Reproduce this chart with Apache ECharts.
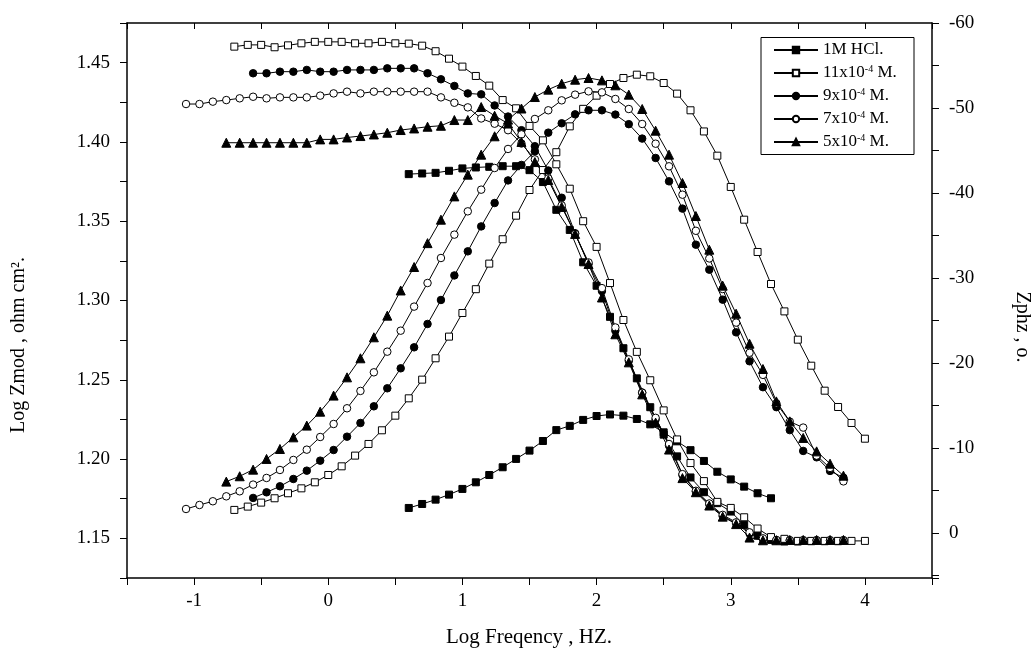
<!DOCTYPE html>
<html>
<head>
<meta charset="utf-8">
<script src="https://cdn.jsdelivr.net/npm/echarts@6/dist/echarts.min.js"></script>
<style>
html,body{margin:0;padding:0;background:#fff;}
#chart{width:1035px;height:649px;}
</style>
</head>
<body>
<div id="chart"></div>
<script>
// ---- data (log frequency, log Zmod, phase) ----
const seriesNames = ['1M HCl.', '11x10-4 M.', '9x10-4 M.', '7x10-4 M.', '5x10-4 M.'];

const freqHCl = [0.6,0.7,0.8,0.9,1.0,1.1,1.2,1.3,1.4,1.5,1.6,1.7,1.8,1.9,2.0,2.1,2.2,2.3,2.4,2.5,2.6,2.7,2.8,2.9,3.0,3.1,3.2,3.3,3.4,3.5,3.6,3.7,3.8];
const zmodHCl = [1.3797,1.3801,1.3805,1.3818,1.3833,1.3839,1.3843,1.3847,1.3847,1.3822,1.3747,1.3572,1.3445,1.3241,1.3093,1.2897,1.2699,1.2509,1.2327,1.2154,1.2017,1.1884,1.1791,1.1722,1.1669,1.1585,1.1517,1.1490,1.1480,1.1480,1.1482,1.1482,1.1482];
const phaseHCl = [-2.94,-3.41,-3.92,-4.51,-5.18,-5.96,-6.82,-7.73,-8.71,-9.69,-10.82,-12.1,-12.6,-13.3,-13.76,-13.94,-13.8,-13.41,-12.78,-11.84,-10.78,-9.74,-8.47,-7.2,-6.3,-5.45,-4.67,-4.08];

const freq11 = [-0.7,-0.6,-0.5,-0.4,-0.3,-0.2,-0.1,0,0.1,0.2,0.3,0.4,0.5,0.6,0.7,0.8,0.9,1.0,1.1,1.2,1.3,1.4,1.5,1.6,1.7,1.8,1.9,2.0,2.1,2.2,2.3,2.4,2.5,2.6,2.7,2.8,2.9,3.0,3.1,3.2,3.3,3.4,3.5,3.6,3.7,3.8,3.9,4.0];
const zmod11 = [1.4601,1.4612,1.4612,1.4597,1.4609,1.4622,1.4631,1.4631,1.4631,1.4622,1.4622,1.4631,1.4622,1.4620,1.4607,1.4572,1.4525,1.4475,1.4416,1.4355,1.4264,1.4212,1.4101,1.4010,1.3859,1.3705,1.3500,1.3338,1.3110,1.2877,1.2676,1.2497,1.2307,1.2124,1.1975,1.1861,1.1730,1.1692,1.1633,1.1562,1.1508,1.1497,1.1484,1.1484,1.1484,1.1484,1.1484,1.1484];
const phase11 = [-2.71,-3.10,-3.57,-4.08,-4.67,-5.25,-5.96,-6.82,-7.84,-9.10,-10.47,-12.08,-13.80,-15.84,-18.04,-20.55,-23.10,-25.88,-28.68,-31.69,-34.56,-37.33,-40.35,-42.7,-44.8,-47.84,-49.90,-51.45,-52.82,-53.53,-53.92,-53.73,-52.94,-51.69,-49.73,-47.24,-44.39,-40.71,-36.86,-33.06,-29.29,-26.07,-22.74,-19.68,-16.74,-14.82,-12.94,-11.09];

const freq9 = [-0.56,-0.46,-0.36,-0.26,-0.16,-0.06,0.04,0.14,0.24,0.34,0.44,0.54,0.64,0.74,0.84,0.94,1.04,1.14,1.24,1.34,1.44,1.54,1.64,1.74,1.84,1.94,2.04,2.14,2.24,2.34,2.44,2.54,2.64,2.74,2.84,2.94,3.04,3.14,3.24,3.34,3.44,3.54,3.64,3.74,3.84];
const zmod9 = [1.4433,1.4433,1.4443,1.4443,1.4454,1.4443,1.4443,1.4454,1.4454,1.4454,1.4464,1.4464,1.4464,1.4433,1.4395,1.4353,1.4306,1.4300,1.4230,1.4160,1.4074,1.3973,1.3820,1.3648,1.3424,1.3230,1.3060,1.2810,1.2620,1.2420,1.2250,1.2085,1.1900,1.1795,1.1715,1.1640,1.1595,1.1530,1.1495,1.1488,1.1488,1.1488,1.1488,1.1488,1.1488];
const phase9 = [-4.12,-4.78,-5.49,-6.35,-7.33,-8.51,-9.76,-11.33,-12.94,-14.90,-17.02,-19.37,-21.84,-24.59,-27.41,-30.30,-33.13,-36.07,-38.82,-41.48,-43.30,-44.90,-47.10,-48.20,-49.25,-49.73,-49.73,-49.22,-48.10,-46.40,-44.12,-41.37,-38.16,-33.92,-30.98,-27.45,-23.60,-20.20,-17.15,-14.80,-12.10,-9.65,-8.90,-7.30,-6.50];

const freq7 = [-1.06,-0.96,-0.86,-0.76,-0.66,-0.56,-0.46,-0.36,-0.26,-0.16,-0.06,0.04,0.14,0.24,0.34,0.44,0.54,0.64,0.74,0.84,0.94,1.04,1.14,1.24,1.34,1.44,1.54,1.64,1.74,1.84,1.94,2.04,2.14,2.24,2.34,2.44,2.54,2.64,2.74,2.84,2.94,3.04,3.14,3.24,3.34,3.44,3.54,3.64,3.74,3.84];
const zmod7 = [1.4239,1.4239,1.4254,1.4264,1.4275,1.4285,1.4275,1.4281,1.4281,1.4281,1.4292,1.4306,1.4317,1.4306,1.4317,1.4317,1.4317,1.4317,1.4317,1.4281,1.4247,1.4218,1.4148,1.4115,1.4074,1.3990,1.3890,1.3770,1.3600,1.3420,1.3240,1.3078,1.2830,1.2629,1.2418,1.2260,1.2095,1.1905,1.1800,1.1720,1.1648,1.1601,1.1538,1.1500,1.1490,1.1488,1.1488,1.1488,1.1488,1.1488];
const phase7 = [-2.82,-3.29,-3.73,-4.31,-4.90,-5.69,-6.47,-7.41,-8.59,-9.80,-11.29,-12.82,-14.67,-16.71,-18.90,-21.33,-23.80,-26.63,-29.41,-32.35,-35.10,-37.84,-40.39,-42.94,-45.18,-46.90,-48.71,-49.73,-50.90,-51.57,-51.96,-51.84,-51.06,-49.88,-48.12,-45.80,-43.14,-39.80,-35.55,-32.30,-28.70,-24.75,-21.20,-18.60,-15.25,-13.10,-12.40,-9.10,-7.65,-6.07];

const freq5 = [-0.76,-0.66,-0.56,-0.46,-0.36,-0.26,-0.16,-0.06,0.04,0.14,0.24,0.34,0.44,0.54,0.64,0.74,0.84,0.94,1.04,1.14,1.24,1.34,1.44,1.54,1.64,1.74,1.84,1.94,2.04,2.14,2.24,2.34,2.44,2.54,2.64,2.74,2.84,2.94,3.04,3.14,3.24,3.34,3.44,3.54,3.64,3.74,3.84];
const zmod5 = [1.3995,1.3995,1.3995,1.3995,1.3995,1.3995,1.3995,1.4016,1.4016,1.4028,1.4037,1.4047,1.4058,1.4075,1.4085,1.4096,1.4102,1.4138,1.4138,1.4220,1.4165,1.4116,1.4000,1.3873,1.3760,1.3590,1.3420,1.3230,1.3019,1.2787,1.2610,1.2408,1.2230,1.2060,1.1880,1.1791,1.1707,1.1637,1.1590,1.1505,1.1488,1.1488,1.1490,1.1490,1.1490,1.1490,1.1490];
const phase5 = [-6.04,-6.67,-7.45,-8.71,-9.88,-11.25,-12.63,-14.27,-16.16,-18.31,-20.55,-23.02,-25.57,-28.53,-31.29,-34.10,-36.86,-39.60,-42.16,-44.51,-46.67,-48.63,-49.94,-51.29,-52.16,-52.86,-53.33,-53.53,-53.25,-52.67,-51.57,-49.88,-47.33,-44.51,-41.18,-37.29,-33.33,-29.10,-25.80,-22.27,-19.29,-15.48,-13.13,-11.18,-9.60,-8.15,-6.74];

// ---- build ----
const pts = (xs, ys) => ys.map((y, i) => [xs[i], y]);
const FONT = 'Liberation Serif';

const styles = [
  {symbol: 'rect', size: 7, fill: '#000'},
  {symbol: 'rect', size: 7, fill: '#fff'},
  {symbol: 'circle', size: 7.5, fill: '#000'},
  {symbol: 'circle', size: 7.5, fill: '#fff'},
  {symbol: 'triangle', size: 9, fill: '#000'}
];
const groups = [
  [freqHCl, zmodHCl, phaseHCl],
  [freq11, zmod11, phase11],
  [freq9, zmod9, phase9],
  [freq7, zmod7, phase7],
  [freq5, zmod5, phase5]
];

const series = [];
groups.forEach((g, k) => {
  const st = styles[k];
  const base = {
    name: seriesNames[k], type: 'line', symbol: st.symbol, symbolSize: st.size,
    showAllSymbol: true, animation: false, emphasis: {disabled: true},
    itemStyle: {color: st.fill, borderColor: '#000', borderWidth: 1},
    lineStyle: {color: '#000', width: 1}, z: 2
  };
  series.push(Object.assign({}, base, {xAxisIndex: 0, yAxisIndex: 0, data: pts(g[0], g[1])}));
  series.push(Object.assign({}, base, {xAxisIndex: 0, yAxisIndex: 1, data: pts(g[0], g[2])}));
});

const axisLineStyle = {show: true, onZero: false, lineStyle: {color: '#000', width: 1.5}};
const tickStyle = {lineStyle: {color: '#000', width: 1}};
const labelStyle = {color: '#000', fontFamily: FONT, fontSize: 19};
const near = (a, b) => Math.abs(a - b) < 1e-6;

const option = {
  backgroundColor: '#fff',
  animation: false,
  grid: {left: 127, right: 103, top: 23, bottom: 71, containLabel: false},
  xAxis: [
    {type: 'value', position: 'bottom', min: -1.5, max: 4.5, interval: 0.5,
     axisLine: axisLineStyle,
     axisTick: Object.assign({show: true, inside: false, length: 7}, tickStyle),
     axisLabel: Object.assign({margin: 14, formatter: v => near(v, Math.round(v)) ? String(Math.round(v)) : ''}, labelStyle),
     splitLine: {show: false}},
    {type: 'value', position: 'top', min: -1.5, max: 4.5, interval: 0.5,
     axisLine: axisLineStyle,
     axisTick: Object.assign({show: true, inside: true, length: 6}, tickStyle),
     axisLabel: {show: false}, splitLine: {show: false}}
  ],
  yAxis: [
    {type: 'value', position: 'left', min: 1.125, max: 1.475, interval: 0.025,
     axisLine: axisLineStyle,
     axisTick: Object.assign({show: true, inside: false, length: 7}, tickStyle),
     axisLabel: Object.assign({margin: 17, formatter: v => near(v * 20, Math.round(v * 20)) ? v.toFixed(2) : ''}, labelStyle),
     splitLine: {show: false}},
    {type: 'value', position: 'right', min: -60, max: 5.3, interval: 5, inverse: true,
     axisLine: axisLineStyle,
     axisTick: Object.assign({show: true, inside: false, length: 7}, tickStyle),
     axisLabel: Object.assign({margin: 17, formatter: v => near(v / 10, Math.round(v / 10)) ? String(Math.round(v)) : ''}, labelStyle),
     splitLine: {show: false}}
  ],
  legend: {
    data: seriesNames, orient: 'vertical', left: 773, top: 41, padding: 0,
    itemWidth: 44, itemHeight: 8, itemGap: 5, z: 5,
    selectedMode: false,
    formatter: name => name.replace('10-4', '10{sup|-4}'),
    textStyle: {color: '#000', fontFamily: FONT, fontSize: 17, lineHeight: 18,
      rich: {sup: {fontFamily: FONT, fontSize: 10, verticalAlign: 'top', lineHeight: 10, color: '#000'}}}
  },
  graphic: [
    {type: 'rect', z: 3, shape: {x: 761, y: 37.5, width: 153, height: 117},
     style: {fill: '#fff', stroke: '#000', lineWidth: 1}},
    {type: 'text', x: 529, y: 637, z: 5,
     style: {text: 'Log Freqency , HZ.', fill: '#000', font: '21px "Liberation Serif"',
             textAlign: 'center', textVerticalAlign: 'middle', align: 'center', verticalAlign: 'middle'}},
    {type: 'text', x: 19, y: 345, rotation: Math.PI / 2, z: 5,
     style: {text: 'Log Zmod , ohm cm\u00B2.', fill: '#000', font: '20px "Liberation Serif"',
             textAlign: 'center', textVerticalAlign: 'middle', align: 'center', verticalAlign: 'middle'}},
    {type: 'text', x: 1022, y: 327, rotation: -Math.PI / 2, z: 5,
     style: {text: 'Zphz , o.', fill: '#000', font: '20px "Liberation Serif"',
             textAlign: 'center', textVerticalAlign: 'middle', align: 'center', verticalAlign: 'middle'}}
  ],
  series: series
};

const chart = echarts.init(document.getElementById('chart'), null, {renderer: 'canvas'});
chart.setOption(option);
</script>
</body>
</html>
